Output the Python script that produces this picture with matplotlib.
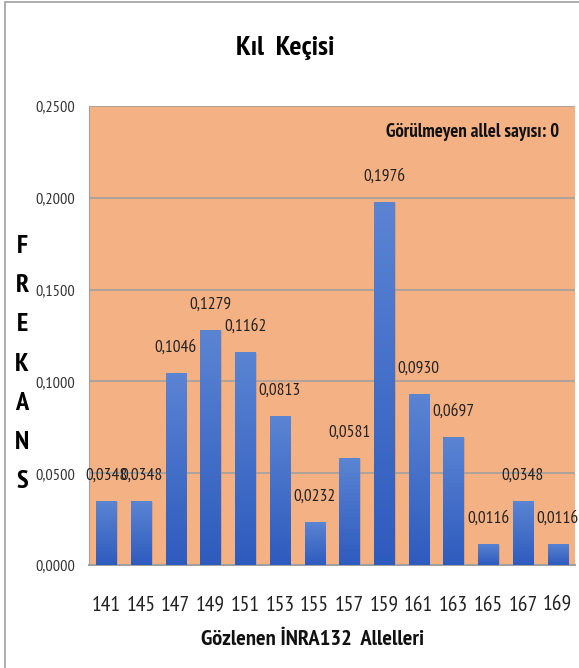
import numpy as np
import matplotlib.pyplot as plt
from matplotlib.colors import LinearSegmentedColormap
from matplotlib.patches import Rectangle

plt.rcParams['font.family'] = ['PT Sans Narrow', 'DejaVu Sans']

# veriler
alleller = ['141', '145', '147', '149', '151', '153', '155', '157', '159', '161', '163', '165', '167', '169']
frekans = [0.0348, 0.0348, 0.1046, 0.1279, 0.1162, 0.0813, 0.0232, 0.0581, 0.1976, 0.0930, 0.0697, 0.0116, 0.0348, 0.0116]
y_ticks = [0.0, 0.05, 0.10, 0.15, 0.20, 0.25]

fig = plt.figure(figsize=(5.79, 6.68), dpi=100)
ax = fig.add_axes([89 / 579, 1 - 565 / 668, 486 / 579, 459 / 668])
ax.set_facecolor('#F4B183')

x = np.arange(len(alleller))
bars = ax.bar(x, frekans, width=0.58, color='#4472C4', edgecolor='none', zorder=3)

# bar gradyani + hafif golge
cmap = LinearSegmentedColormap.from_list('mavi', ['#2E5BBE', '#5B84D3'])
grad = np.linspace(0, 1, 256).reshape(-1, 1)
for b in bars:
    x0, w, h = b.get_x(), b.get_width(), b.get_height()
    ax.add_patch(Rectangle((x0 + 0.04, 0), w, h - 0.0005, facecolor='#C98A62', alpha=0.5,
                           edgecolor='none', zorder=2))
    im = ax.imshow(grad, cmap=cmap, extent=(x0, x0 + w, 0, h), origin='lower',
                   aspect='auto', zorder=4)
    im.set_clip_path(b)

for i, v in enumerate(frekans):
    ax.text(i, v + 0.0095, f"{v:.4f}".replace('.', ','), ha='center', va='bottom',
            fontsize=12.5, color='#222222', zorder=5)

ax.set_xlim(-0.5, len(alleller) - 0.5)
ax.set_ylim(0, 0.25)
ax.set_yticks(y_ticks)
ax.set_yticklabels([f"{t:.4f}".replace('.', ',') for t in y_ticks], fontsize=11.7, color='#333333')
ax.set_xticks(x)
ax.set_xticklabels(alleller, fontsize=15.5, color='#222222')
ax.tick_params(axis='both', length=0)
ax.tick_params(axis='x', pad=22)
ax.tick_params(axis='y', pad=10)
ax.grid(axis='y', color='#A0A0A0', linewidth=1.2, zorder=1)
for s in ['top', 'right']:
    ax.spines[s].set_visible(False)
ax.spines['left'].set_color('#A0A0A0')
ax.spines['bottom'].set_color('#A0A0A0')
ax.spines['bottom'].set_linewidth(1.5)

ax.text(0.967, 0.943, 'Görülmeyen allel sayısı: 0', transform=ax.transAxes, ha='right', va='center',
        fontsize=13.5, fontweight='bold', color='#111111')

fig.text(0.492, 0.928, 'Kıl  Keçisi', ha='center', va='center', fontsize=20.5, fontweight='bold')
fig.text(0.539, 0.042, 'Gözlenen İNRA132  Allelleri', ha='center', va='center', fontsize=16.2,
         fontweight='bold', color='#111111')
fig.text(0.038, 0.455, '\n'.join('FREKANS'), ha='center', va='center', fontsize=19,
         fontweight='bold', linespacing=1.9)

# cerceve
fig.patches.append(Rectangle((0.008, -0.01), 1.1, 1.007, transform=fig.transFigure, fill=False,
                             edgecolor='#A0A0A0', linewidth=1.2))

fig.savefig('out.png', dpi=100)
